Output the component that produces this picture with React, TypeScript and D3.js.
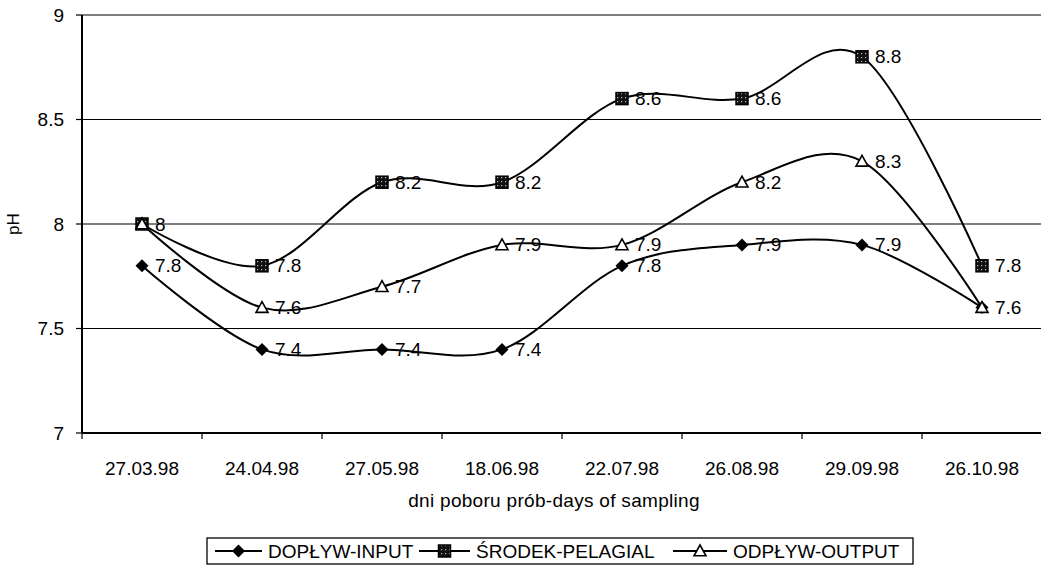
import React from "react";
import * as d3 from "d3";

const categories = ["27.03.98", "24.04.98", "27.05.98", "18.06.98", "22.07.98", "26.08.98", "29.09.98", "26.10.98"];
const inputValues = [7.8, 7.4, 7.4, 7.4, 7.8, 7.9, 7.9, 7.6];
const pelagialValues = [8, 7.8, 8.2, 8.2, 8.6, 8.6, 8.8, 7.8];
const outputValues = [8, 7.6, 7.7, 7.9, 7.9, 8.2, 8.3, 7.6];
const yTicks = [7, 7.5, 8, 8.5, 9];
const seriesNames = ["DOPŁYW-INPUT", "ŚRODEK-PELAGIAL", "ODPŁYW-OUTPUT"];

const W = 1041, H = 567;
const left = 82, right = 1042, top = 15, bottom = 433;
const FONT = "'Liberation Sans', Arial, sans-serif";

function Marker({ kind, x, y }: { kind: string; x: number; y: number }) {
  if (kind === "diamond") {
    const s = 6.5;
    return <path d={`M${x},${y - s}L${x + s},${y}L${x},${y + s}L${x - s},${y}Z`} fill="#000" />;
  }
  if (kind === "square") {
    const s = 6;
    return <rect x={x - s} y={y - s} width={2 * s} height={2 * s} fill="url(#sqpat)" stroke="#000" strokeWidth={1.5} />;
  }
  const s = 6;
  return <path d={`M${x},${y - s}L${x + s},${y + s * 0.8}L${x - s},${y + s * 0.8}Z`} fill="#fff" stroke="#000" strokeWidth={1.6} />;
}

export default function App() {
  const x = d3.scaleBand<string>().domain(categories).range([left, right]);
  const y = d3.scaleLinear().domain([7, 9]).range([bottom, top]);
  const cx = (c: string) => (x(c) as number) + x.bandwidth() / 2;
  const line = d3
    .line<number>()
    .x((_, i) => cx(categories[i]))
    .y((v) => y(v))
    .curve(d3.curveCardinal.tension(0));

  const series = [
    { name: seriesNames[0], values: inputValues, kind: "diamond" },
    { name: seriesNames[1], values: pelagialValues, kind: "square" },
    { name: seriesNames[2], values: outputValues, kind: "triangle" },
  ];

  const legendItems = [
    { lx: 215, tx: 268 },
    { lx: 419, tx: 476 },
    { lx: 673, tx: 733 },
  ];

  return (
    <div style={{ position: "absolute", left: 0, top: 0 }}>
      <svg width={W} height={H} style={{ display: "block", background: "#fff" }} fontFamily={FONT}>
        <defs>
          <pattern id="sqpat" width={4} height={4} patternUnits="userSpaceOnUse">
            <rect width={4} height={4} fill="#111" />
            <rect x={1} y={1} width={1.2} height={1.2} fill="#bbb" />
          </pattern>
        </defs>
        {yTicks.filter((t) => t > 7).map((t) => (
          <line key={t} x1={left} x2={right} y1={y(t)} y2={y(t)} stroke="#000" strokeWidth={1.2} />
        ))}
        <line x1={left} x2={left} y1={top} y2={bottom} stroke="#000" strokeWidth={2} />
        {yTicks.map((t) => (
          <g key={t}>
            <line x1={left - 6} x2={left} y1={y(t)} y2={y(t)} stroke="#000" strokeWidth={1.2} />
            <text x={64} y={y(t)} textAnchor="end" dominantBaseline="central" fontSize={19}>
              {String(t)}
            </text>
          </g>
        ))}
        <line x1={left} x2={right} y1={bottom} y2={bottom} stroke="#000" strokeWidth={2} />
        {categories.map((c) => (
          <g key={c}>
            <line x1={x(c) as number} x2={x(c) as number} y1={bottom} y2={bottom + 6} stroke="#000" strokeWidth={1.2} />
            <text x={cx(c)} y={468} textAnchor="middle" dominantBaseline="central" fontSize={19}>
              {c}
            </text>
          </g>
        ))}
        <text x={13} y={y(8)} textAnchor="middle" dominantBaseline="central" fontSize={17} transform={`rotate(-90, 13, ${y(8)})`}>
          pH
        </text>
        <text x={554} y={500} textAnchor="middle" dominantBaseline="central" fontSize={19} letterSpacing={0.3}>
          dni poboru prób-days of sampling
        </text>
        {series.map((s, si) => (
          <g key={s.name}>
            <path d={line(s.values) as string} fill="none" stroke="#000" strokeWidth={2} />
            {s.values.map((v, i) => (
              <Marker key={i} kind={s.kind} x={cx(categories[i])} y={y(v)} />
            ))}
            {s.values.map((v, i) =>
              series.slice(0, si).some((p) => p.values[i] === v) ? null : (
                <text key={"t" + i} x={cx(categories[i]) + 13} y={y(v)} dominantBaseline="central" fontSize={19}>
                  {String(v)}
                </text>
              )
            )}
          </g>
        ))}
        <rect x={207} y={538} width={706} height={26} fill="#fff" stroke="#000" strokeWidth={1.3} />
        {series.map((s, i) => (
          <g key={s.name}>
            <line x1={legendItems[i].lx} x2={legendItems[i].tx - 6} y1={551} y2={551} stroke="#000" strokeWidth={2} />
            <Marker kind={s.kind} x={(legendItems[i].lx + legendItems[i].tx - 6) / 2} y={551} />
            <text x={legendItems[i].tx} y={551} dominantBaseline="central" fontSize={19}>
              {s.name}
            </text>
          </g>
        ))}
      </svg>
    </div>
  );
}
